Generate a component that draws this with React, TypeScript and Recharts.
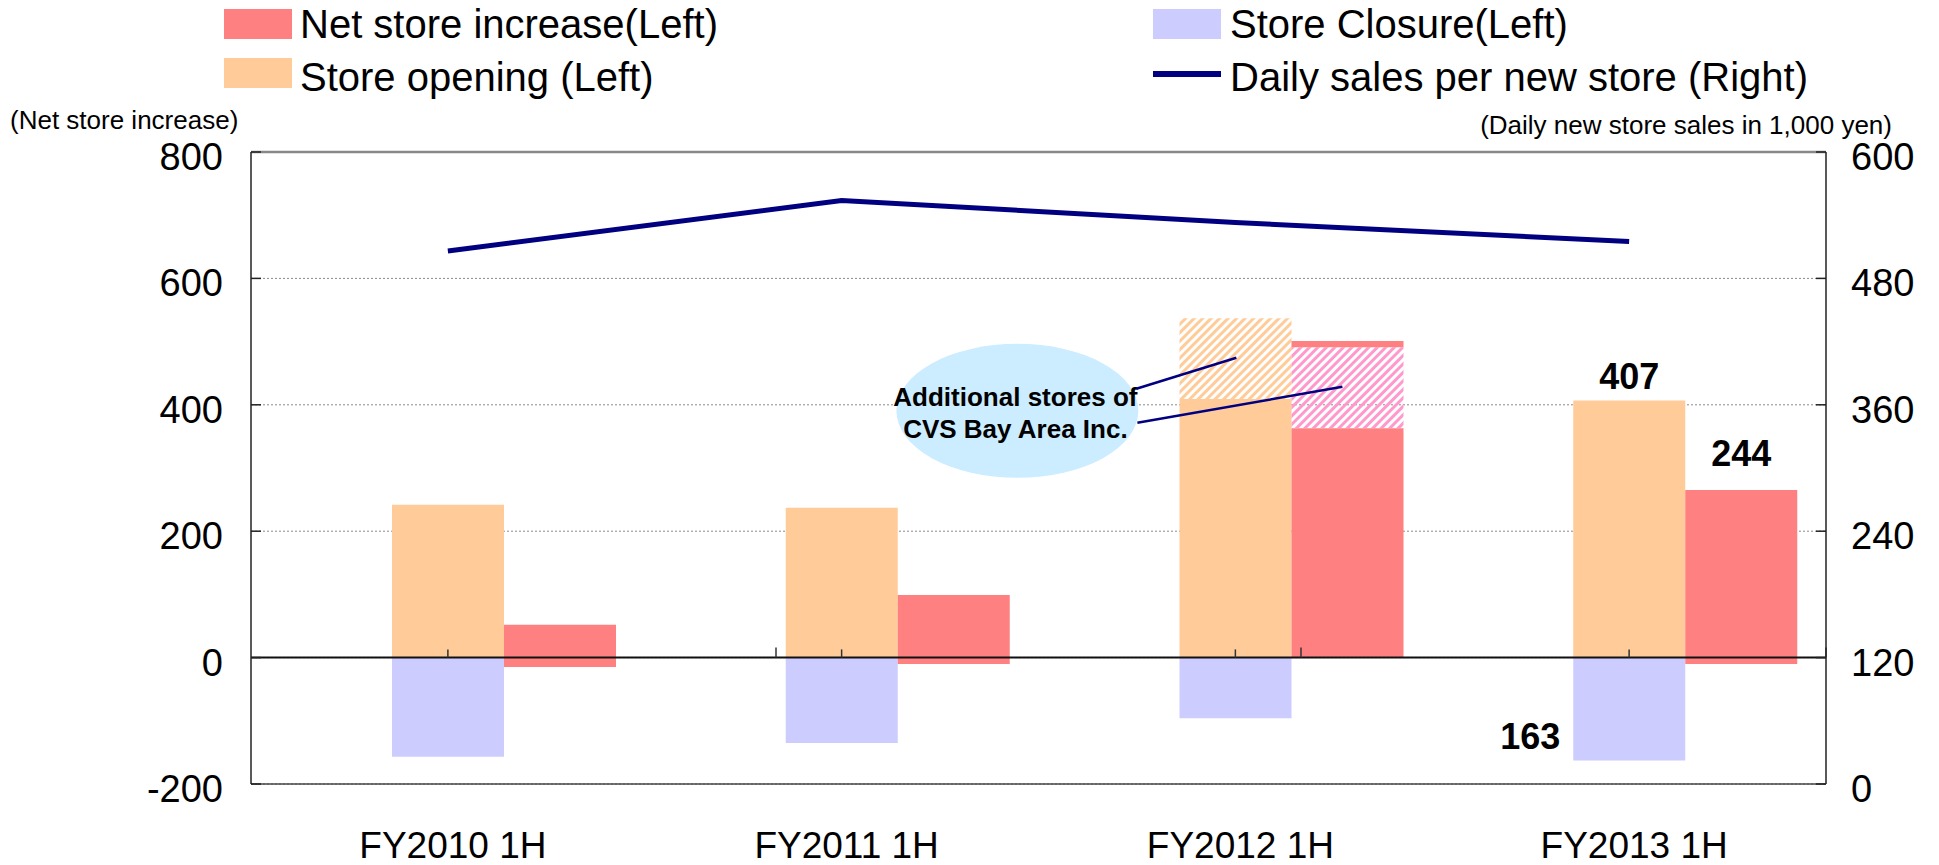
import React from 'react';
import {
  ComposedChart, Bar, Line, XAxis, YAxis, CartesianGrid, ReferenceLine, ReferenceDot,
} from 'recharts';

const periods = ['FY2010 1H', 'FY2011 1H', 'FY2012 1H', 'FY2013 1H'];
const storeOpening = [242, 237, 409, 407];
const openingBayArea = [0, 0, 128, 0];
const storeClosure = [-157, -135, -96, -163];
// the net bars float across zero in the original, so they are kept as two parts
const netBelowZero = [-15, -10, 0, -10];
const netAboveZero = [52, 99, 363, 265];
const netBayArea = [0, 0, 128, 0];
const netTopBand = [0, 0, 10, 0];
const dailySalesPerNewStore = [506, 554, 533, 515];

const leftTicks = [-200, 0, 200, 400, 600, 800];
const rightTicks = [0, 120, 240, 360, 480, 600];

const data = periods.map((period, i) => ({
  period,
  opening: storeOpening[i],
  openingBay: openingBayArea[i],
  closure: storeClosure[i],
  netBelow: netBelowZero[i],
  netAbove: netAboveZero[i],
  netBay: netBayArea[i],
  netTop: netTopBand[i],
  daily: dailySalesPerNewStore[i],
}));

// category boundaries on the zero line (1..n-1 on a hidden 0..n number axis)
const boundaries = periods.slice(1).map((_, i) => i + 1);

const LAST = periods.length - 1;
const NET = '#FF8080';
const OPENING = '#FFCC99';
const CLOSURE = '#CCCCFF';
const NAVY = '#000080';

const top = (p: any) => Math.min(p.y, p.y + p.height);
const bottom = (p: any) => Math.max(p.y, p.y + p.height);

const valueText = { fontSize: 36, fontWeight: 'bold' as const, fill: '#000' };

const openingLabel = (p: any) =>
  p.index !== LAST ? null : (
    <text x={p.x + p.width / 2} y={top(p) - 24} textAnchor="middle" dominantBaseline="central" {...valueText}>
      {storeOpening[LAST]}
    </text>
  );

const closureLabel = (p: any) =>
  p.index !== LAST ? null : (
    <text x={p.x - 13} y={bottom(p) - 24} textAnchor="end" dominantBaseline="central" {...valueText}>
      {Math.abs(storeClosure[LAST])}
    </text>
  );

const netLabel = (p: any) =>
  p.index !== LAST ? null : (
    <text x={p.x + p.width / 2} y={top(p) - 37} textAnchor="middle" dominantBaseline="central" {...valueText}>
      {storeOpening[LAST] + storeClosure[LAST]}
    </text>
  );

function BayAreaNote({ cx, cy }: { cx: number; cy: number }) {
  return (
    <g>
      <ellipse cx={cx - 218} cy={cy + 6} rx={121} ry={67} fill="#CCECFF" />
      <text x={cx - 220} y={cy - 8} textAnchor="middle" dominantBaseline="central" fontSize={26} fontWeight="bold">
        Additional stores of
      </text>
      <text x={cx - 220} y={cy + 24} textAnchor="middle" dominantBaseline="central" fontSize={26} fontWeight="bold">
        CVS Bay Area Inc.
      </text>
      <line x1={cx - 99} y1={cy - 16} x2={cx + 1} y2={cy - 47} stroke={NAVY} strokeWidth={2.5} />
      <line x1={cx - 98} y1={cy + 18} x2={cx + 107} y2={cy - 18} stroke={NAVY} strokeWidth={2.5} />
    </g>
  );
}

function CategoryTick({ x, y, payload }: any) {
  return (
    <text x={x + 5} y={y + 61} textAnchor="middle" dominantBaseline="central" fontSize={37} fill="#000">
      {payload.value}
    </text>
  );
}

function ValueTick({ x, y, payload, textAnchor }: any) {
  return (
    <text x={x} y={y + 5} textAnchor={textAnchor} dominantBaseline="central" fontSize={38} fill="#000">
      {payload.value}
    </text>
  );
}

function Legend() {
  const t = { fontSize: 40, fill: '#000', dominantBaseline: 'central' as const };
  return (
    <svg width={1939} height={140} style={{ position: 'absolute', left: 0, top: 0, pointerEvents: 'none' }}>
      <rect x={224} y={9} width={68} height={30} fill={NET} />
      <text x={300} y={24} {...t}>Net store increase(Left)</text>
      <rect x={224} y={58} width={68} height={30} fill={OPENING} />
      <text x={300} y={77} {...t}>Store opening (Left)</text>
      <rect x={1153} y={9} width={68} height={30} fill={CLOSURE} />
      <text x={1230} y={24} {...t}>Store Closure(Left)</text>
      <line x1={1153} x2={1221} y1={74} y2={74} stroke={NAVY} strokeWidth={6} />
      <text x={1230} y={77} {...t}>Daily sales per new store (Right)</text>
      <text x={10} y={120} fontSize={26} dominantBaseline="central">(Net store increase)</text>
      <text x={1892} y={125} fontSize={26} textAnchor="end" dominantBaseline="central">
        (Daily new store sales in 1,000 yen)
      </text>
    </svg>
  );
}

export default function App() {
  return (
    <div
      style={{
        position: 'absolute', left: 0, top: 0, width: 1939, height: 865, background: '#fff',
        fontFamily: '"Liberation Sans", Arial, sans-serif',
      }}
    >
      <ComposedChart
        width={1939}
        height={865}
        data={data}
        margin={{ top: 152, right: 13, bottom: 41, left: 151 }}
        stackOffset="sign"
        barGap={0}
        barSize={112}
      >
        <defs>
          <pattern id="hatchOrange" width="6" height="6" patternUnits="userSpaceOnUse" patternTransform="rotate(45)">
            <rect width="3" height="6" fill={OPENING} />
          </pattern>
          <pattern id="hatchPink" width="6" height="6" patternUnits="userSpaceOnUse" patternTransform="rotate(45)">
            <rect width="3" height="6" fill="#FF99CC" />
          </pattern>
        </defs>
        <CartesianGrid yAxisId="left" vertical={false} stroke="#8a8a8a" strokeDasharray="2 2" />
        <XAxis dataKey="period" axisLine={false} tickLine={false} tickSize={0} tickMargin={0} height={40} tick={<CategoryTick />} />
        <XAxis xAxisId="pos" type="number" domain={[0, periods.length]} hide />
        <YAxis
          yAxisId="left"
          domain={[-200, 800]}
          ticks={leftTicks}
          width={100}
          axisLine={{ stroke: '#222', strokeWidth: 1.5 }}
          tickLine={{ stroke: '#222', strokeWidth: 1.5 }}
          tickSize={-10}
          tickMargin={38}
          tick={<ValueTick />}
        />
        <YAxis
          yAxisId="right"
          orientation="right"
          domain={[0, 600]}
          ticks={rightTicks}
          width={100}
          axisLine={{ stroke: '#222', strokeWidth: 1.5 }}
          tickLine={{ stroke: '#222', strokeWidth: 1.5 }}
          tickSize={-10}
          tickMargin={35}
          tick={<ValueTick />}
        />
        <ReferenceLine yAxisId="left" y={800} stroke="#888" strokeWidth={2.5} />
        <ReferenceLine yAxisId="left" y={-200} stroke="#444" strokeWidth={1.5} />
        <Bar dataKey="spacer" yAxisId="left" stackId="pad" fill="none" legendType="none" isAnimationActive={false} />
        <Bar dataKey="opening" yAxisId="left" stackId="a" fill={OPENING} isAnimationActive={false} label={openingLabel} />
        <Bar dataKey="openingBay" yAxisId="left" stackId="a" fill="url(#hatchOrange)" isAnimationActive={false} />
        <Bar dataKey="closure" yAxisId="left" stackId="a" fill={CLOSURE} isAnimationActive={false} label={closureLabel} />
        <ReferenceLine yAxisId="left" y={0} stroke="#111" strokeWidth={2} />
        {periods.map((p) => (
          <ReferenceLine
            key={p}
            yAxisId="left"
            segment={[{ x: p, y: 0 }, { x: p, y: 13 }]}
            stroke="#333"
            strokeWidth={1.5}
          />
        ))}
        {boundaries.map((b) => (
          <ReferenceLine
            key={b}
            xAxisId="pos"
            yAxisId="left"
            segment={[{ x: b, y: 0 }, { x: b, y: 16 }]}
            stroke="#333"
            strokeWidth={1.5}
          />
        ))}
        <Bar dataKey="netBelow" yAxisId="left" stackId="b" fill={NET} isAnimationActive={false} />
        <Bar dataKey="netAbove" yAxisId="left" stackId="b" fill={NET} isAnimationActive={false} label={netLabel} />
        <Bar dataKey="netBay" yAxisId="left" stackId="b" fill="url(#hatchPink)" isAnimationActive={false} />
        <Bar dataKey="netTop" yAxisId="left" stackId="b" fill={NET} isAnimationActive={false} />
        <Line
          yAxisId="right"
          dataKey="daily"
          type="linear"
          stroke={NAVY}
          strokeWidth={5}
          dot={false}
          activeDot={false}
          isAnimationActive={false}
        />
        <ReferenceDot
          yAxisId="left"
          x="FY2012 1H"
          y={400}
          r={1}
          ifOverflow="visible"
          shape={(p: any) => <BayAreaNote cx={p.cx} cy={p.cy} />}
        />
      </ComposedChart>
      <Legend />
    </div>
  );
}
